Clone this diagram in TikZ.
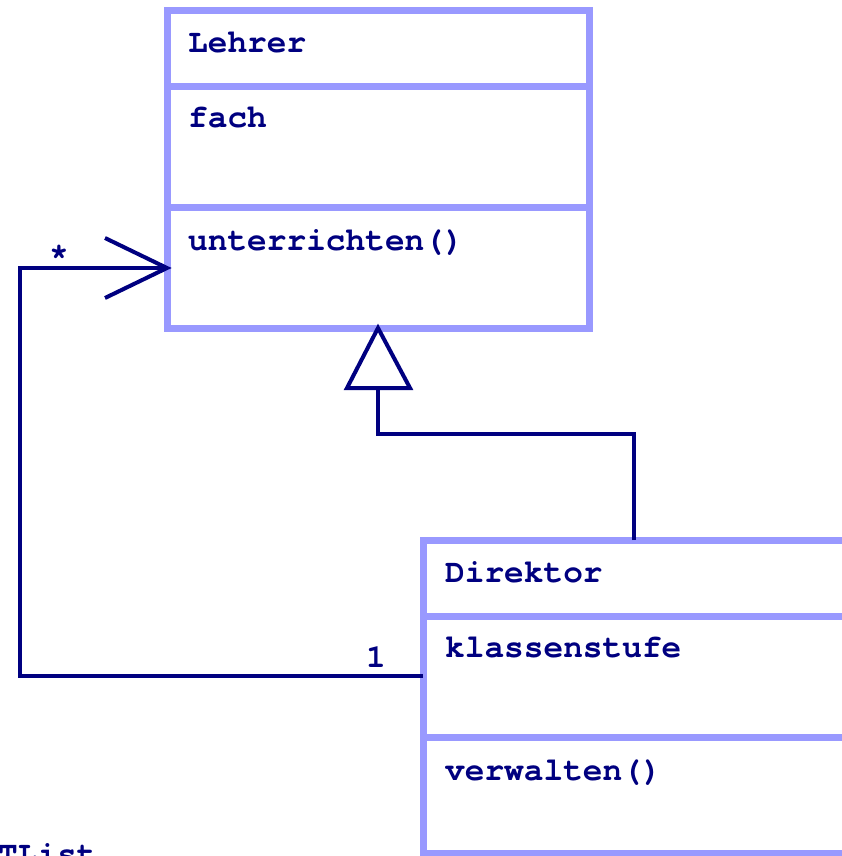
\documentclass[tikz,border=0pt]{standalone}
\usepackage{fontspec}
\setmainfont{texgyrecursor}[Extension=.otf, UprightFont=*-regular, BoldFont=*-bold]
\usetikzlibrary{calc}
\definecolor{boxc}{HTML}{9999FF}
\definecolor{inkc}{HTML}{000080}
\begin{document}
\begin{tikzpicture}[x=1pt,y=-1pt,
  classbox/.style={draw=boxc, line width=7pt, fill=white, inner sep=0pt, outer sep=0pt, rectangle},
  divider/.style={draw=boxc, line width=7pt},
  txt/.style={anchor=base west, inner sep=0pt, text=inkc, font=\fontsize{32.8}{37}\selectfont\bfseries},
  lab/.style={anchor=base, inner sep=0pt, text=inkc, font=\fontsize{32.8}{37}\selectfont\bfseries},
  conn/.style={draw=inkc, line width=4pt, line join=miter},
]
\useasboundingbox (0,0) rectangle (841,856);
% Lehrer
\node[classbox, minimum width=422pt, minimum height=317pt] (lehrer) at (378,169.5) {};
\draw[divider] (lehrer.west |- 0,87) -- (lehrer.east |- 0,87);
\draw[divider] (lehrer.west |- 0,207) -- (lehrer.east |- 0,207);
\node[txt] (lname) at (188,53) {Lehrer};
\node[txt] (lattr) at (188,128) {fach};
\node[txt] (lop) at (188,250) {unterrichten()};
% Direktor
\node[classbox, minimum width=600pt, minimum height=313pt] (dir) at (723,696.5) {};
\draw[divider] (dir.west |- 0,616) -- (dir.east |- 0,616);
\draw[divider] (dir.west |- 0,737) -- (dir.east |- 0,737);
\node[txt] (dname) at (445,582) {Direktor};
\node[txt] (dattr) at (445,657) {klassenstufe};
\node[txt] (dop) at (445,780) {verwalten()};
% TList (cut off at the lower edge, as in the original)
\node[txt] (tlist) at (-2,864) {TList};
% generalization
\coordinate (dg) at (dir.north west -| 634,0);
\coordinate (tb) at (378,388);
\draw[conn] (dg) |- (378,434) -- (tb);
\draw[conn, fill=white] (lehrer.south) -- (347,388) -- (410,388) -- cycle;
% association
\coordinate (da) at (dir.west |- 0,676);
\coordinate (la) at (lehrer.west |- 0,268);
\draw[conn] (da) -- (20,676) -- (20,268) -- (la);
\draw[conn] (105,238) -- (la) -- (105,298);
\node[lab] (star) at (59,265) {*};
\node[lab] (one) at (376,667) {1};
\end{tikzpicture}
\end{document}
